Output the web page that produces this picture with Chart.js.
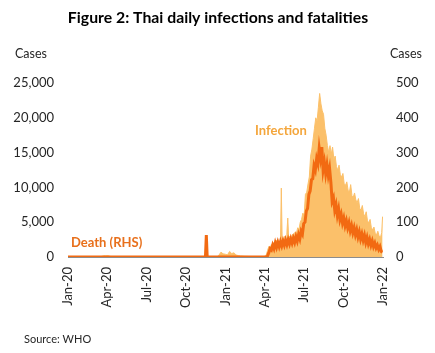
<!DOCTYPE html>
<html>
<head>
<meta charset="utf-8">
<script src="https://cdn.jsdelivr.net/npm/chart.js@4.4.0/dist/chart.umd.min.js"></script>
<style>
  html, body { margin: 0; padding: 0; background: #fff; }
  #wrap { width: 435px; height: 353px; position: relative; }
</style>
</head>
<body>
<div id="wrap"><canvas id="chart"></canvas></div>
<script>
// -------- DATA (x = days since 1 Jan 2020) --------
const tickDays = [0, 91, 182, 274, 366, 456, 547, 639, 731];
const tickLabels = ["Jan-20", "Apr-20", "Jul-20", "Oct-20", "Jan-21", "Apr-21", "Jul-21", "Oct-21", "Jan-22"];

const infDays = [0, 20, 60, 75, 80, 85, 88, 92, 96, 100, 110, 130, 200, 300, 340, 346, 350, 355, 360, 365, 370, 375, 380,
  385, 390, 395, 400, 410, 420, 440, 455,
  460, 463, 466, 469, 472, 475, 478, 481, 484, 487, 490, 493, 495, 497, 500, 503, 506, 508, 510, 512,
  515, 518, 521, 524, 527, 530, 533, 536, 539, 542, 545, 548, 551, 554, 557, 560, 563, 566, 569, 572,
  575, 578, 581, 584, 587, 590, 593, 596, 599, 602, 605, 608, 611, 614, 617, 620, 623, 626, 629, 632,
  635, 638, 641, 644, 647, 650, 653, 656, 659, 662, 665, 668, 671, 674, 677, 680, 683, 686, 689, 692,
  695, 698, 701, 704, 707, 710, 713, 716, 719, 722, 725, 728, 730];
const infCases = [0, 0, 5, 30, 120, 180, 150, 190, 130, 60, 20, 5, 5, 5, 10, 40, 250, 700, 450, 400, 300, 800, 500,
  600, 300, 200, 150, 100, 80, 60, 50,
  300, 900, 1500, 1300, 1800, 1500, 2100, 1700, 2400, 1900, 2300, 2000, 9900, 2500, 2200, 3000, 2500, 3500, 5600, 2800,
  3000, 2600, 3300, 2900, 3600, 3400, 4200, 4000, 5000, 5400, 6300, 6000, 9000, 9300, 10500, 11500, 14500, 15500, 17000, 18500,
  20000, 19500, 21500, 23500, 22000, 21000, 20500, 18500, 17500, 16000, 15000, 16000, 14800, 15800, 14000, 14500, 13000, 12500, 13200, 11800,
  11500, 12000, 10500, 10300, 10800, 9600, 9300, 10400, 8800, 8600, 9200, 8200, 7800, 8400, 7000, 6700, 7400, 6200, 5800, 6500,
  5200, 4900, 5400, 4200, 3900, 4300, 3400, 3200, 3700, 3000, 2800, 3500, 5800];

const deathDays = [0, 319, 321, 323, 462,
  466, 469, 472, 475, 478, 481, 484, 487, 490, 493, 496, 499, 502, 505, 508, 511, 514, 517, 520, 523,
  526, 529, 532, 535, 538, 541, 544, 547, 550, 553, 556, 559, 562, 565, 568, 571, 574, 577, 580, 583,
  586, 589, 592, 595, 598, 601, 604, 607, 610, 613, 616, 619, 622, 625, 628, 631, 634, 637, 640, 643,
  646, 649, 652, 655, 658, 661, 664, 667, 670, 673, 676, 679, 682, 685, 688, 691, 694, 697, 700, 703,
  706, 709, 712, 715, 718, 721, 724, 727, 730];
const deaths = [0, 0, 63, 0, 0,
  12, 24, 20, 34, 24, 40, 28, 42, 30, 44, 32, 46, 34, 48, 36, 50, 38, 52, 40, 54,
  42, 58, 46, 64, 52, 74, 66, 96, 100, 132, 140, 180, 190, 222, 225, 262, 250, 282, 268, 312,
  285, 316, 250, 272, 240, 265, 235, 255, 215, 160, 170, 135, 150, 120, 138, 108, 122, 98, 112, 90,
  104, 84, 98, 76, 90, 70, 84, 64, 78, 58, 72, 52, 66, 48, 62, 42, 56, 38, 50, 34,
  46, 30, 40, 26, 34, 22, 30, 16, 14];

// -------- TEXT OVERLAY --------
const textPlugin = {
    id: "texts",
    afterDraw(chart) {
        const ctx = chart.ctx;
        ctx.save();
        ctx.textBaseline = "middle";

        ctx.fillStyle = "#000";
        ctx.textAlign = "center";
        ctx.font = "bold 15.8px Lato";
        ctx.fillText("Figure 2: Thai daily infections and fatalities", 218, 18);

        ctx.fillStyle = "#262626";
        ctx.font = "12.5px Lato";
        ctx.fillText("Cases", 31, 54);
        ctx.fillText("Cases", 406, 54);

        ctx.fillStyle = "#F4A63C";
        ctx.font = "bold 13px Lato";
        ctx.fillText("Infection", 281, 131);

        ctx.textAlign = "left";
        ctx.fillStyle = "#E8701C";
        ctx.fillText("Death (RHS)", 71, 243);

        ctx.fillStyle = "#262626";
        ctx.font = "11px Lato";
        ctx.fillText("Source: WHO", 24, 339);
        ctx.restore();
    }
};

// -------- CHART --------
const tickFont = { family: "Lato", size: 13 };

new Chart(document.getElementById("chart"), {
    type: "line",
    data: {
        datasets: [{
            label: "Infection",
            data: infDays.map((d, i) => ({ x: d, y: infCases[i] })),
            yAxisID: "y",
            backgroundColor: "#FBC06A",
            borderColor: "#FBC06A",
            borderWidth: 1,
            fill: "origin",
            pointRadius: 0,
            tension: 0,
            order: 1
        }, {
            label: "Death (RHS)",
            data: deathDays.map((d, i) => ({ x: d, y: deaths[i] })),
            yAxisID: "y1",
            borderColor: "#F26A12",
            borderWidth: 3,
            fill: false,
            pointRadius: 0,
            tension: 0,
            order: 0
        }]
    },
    options: {
        responsive: true,
        maintainAspectRatio: false,
        animation: false,
        layout: { padding: { top: 83, right: 0, bottom: 0, left: 0 } },
        plugins: {
            legend: { display: false },
            tooltip: { enabled: false }
        },
        scales: {
            x: {
                type: "linear",
                min: 0,
                max: 731,
                grid: { display: false, drawTicks: false },
                border: { display: true, color: "#8c8c8c", width: 1 },
                afterBuildTicks: axis => { axis.ticks = tickDays.map(v => ({ value: v })); },
                afterFit: s => { s.height = 96; },
                ticks: {
                    autoSkip: false,
                    minRotation: 90,
                    maxRotation: 90,
                    padding: 10,
                    color: "#262626",
                    font: tickFont,
                    callback: v => tickLabels[tickDays.indexOf(v)]
                }
            },
            y: {
                position: "left",
                min: 0,
                max: 25000,
                grid: { display: false, drawTicks: false },
                border: { display: false },
                afterFit: s => { s.width = 68; },
                ticks: {
                    stepSize: 5000,
                    padding: 14,
                    color: "#262626",
                    font: tickFont,
                    callback: v => v.toLocaleString("en-US")
                }
            },
            y1: {
                position: "right",
                min: 0,
                max: 500,
                grid: { display: false, drawTicks: false },
                border: { display: false },
                afterFit: s => { s.width = 52; },
                ticks: {
                    stepSize: 100,
                    padding: 13,
                    color: "#262626",
                    font: tickFont
                }
            }
        }
    },
    plugins: [textPlugin]
});
</script>
</body>
</html>
